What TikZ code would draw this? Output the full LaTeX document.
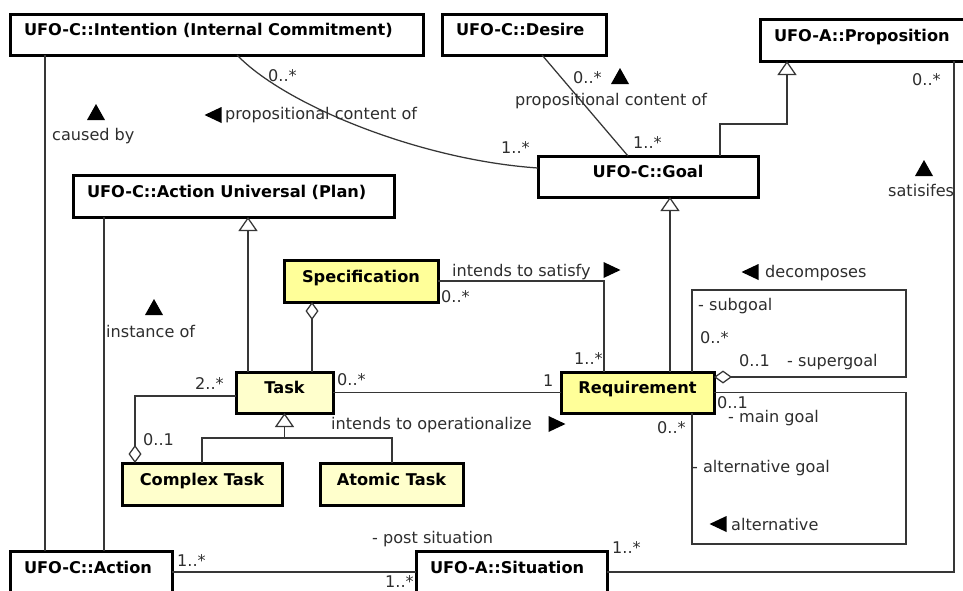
\documentclass[tikz,border=0pt]{standalone}
\usepackage{fontspec}
\setmainfont{DejaVu Sans}
\usetikzlibrary{arrows.meta}
\definecolor{specfill}{HTML}{FFFF99}
\definecolor{taskfill}{HTML}{FFFFCC}
\definecolor{linegray}{HTML}{363636}
\definecolor{labelgray}{HTML}{2E2E2E}

\begin{document}
\begin{tikzpicture}[x=1pt,y=-1pt,
  cls/.style={draw=black, line width=3pt, fill=white, rectangle, outer sep=0pt,
    anchor=north west, font=\fontsize{16.2}{18}\selectfont\bfseries,
    text height=11.5pt, text depth=9pt, minimum height=41pt},
  lcls/.style={cls, align=left, inner xsep=14pt, text width=#1},
  ccls/.style={cls, align=center, minimum width=#1},
  lbl/.style={font=\fontsize{16.1}{18}\selectfont, text=labelgray, inner sep=0pt,
    text height=11.5pt, text depth=0pt, anchor=west},
  conn/.style={draw=linegray, line width=1.25pt},
  gen/.style={conn, -{Triangle[open, length=14pt, width=19pt]}},
  agg/.style={conn, -{Diamond[open, length=18pt, width=13pt]}},
  upmark/.pic={\fill[black] (-9,8) -- (9,8) -- (0,-8) -- cycle;},
  leftmark/.pic={\fill[black] (8.5,-8) -- (8.5,8) -- (-8.5,0) -- cycle;},
  rightmark/.pic={\fill[black] (-8.5,-8) -- (-8.5,8) -- (8.5,0) -- cycle;}
]
\useasboundingbox (0,0) rectangle (963,590);
\fill[white] (0,0) rectangle (963,590);
\clip (0,0) rectangle (963,590);

% classes
\node[lcls=385pt] (int) at (10,14) {UFO-C::Intention (Internal Commitment)};
\node[lcls=136pt] (des) at (442,14) {UFO-C::Desire};
\node[lcls=187pt, minimum height=42pt] (prop) at (760,19) {UFO-A::Proposition};
\node[ccls=220pt] (goal) at (538,156) {UFO-C::Goal};
\node[lcls=293pt, minimum height=42pt] (au) at (73,175) {UFO-C::Action Universal (Plan)};
\node[ccls=154pt, minimum height=42pt, fill=specfill] (spec) at (284,260) {Specification};
\node[ccls=97pt, fill=taskfill] (task) at (236,372) {Task};
\node[ccls=153pt, fill=specfill] (req) at (561,372) {Requirement};
\node[ccls=160pt, minimum height=42pt, fill=taskfill] (ct) at (122,463) {Complex Task};
\node[ccls=143pt, minimum height=42pt, fill=taskfill] (at) at (320,463) {Atomic Task};
\node[lcls=134pt, minimum height=42pt] (act) at (10,551) {UFO-C::Action};
\node[lcls=163pt, minimum height=42pt] (sit) at (416,551) {UFO-A::Situation};

% helper points of the self associations and the generalization tree
\coordinate (dtop) at (906,290);
\coordinate (abot) at (906,544);
\coordinate (tj) at ([yshift=-25pt]task.south);

% associations
\draw[conn] ([xshift=35pt]int.south west) -- ([xshift=35pt]int.south west |- act.north);
\draw[conn] ([xshift=31pt]au.south west) -- ([xshift=31pt]au.south west |- act.north);
\draw[conn] ([xshift=227pt]int.south west) .. controls (285,105) and (420,160) .. ([yshift=8.5pt]goal.west);
\draw[conn] ([xshift=100pt]des.south west) -- ([xshift=90pt]goal.north west);
\draw[conn] (spec.east) -| ([xshift=43pt]req.north west);
\draw[conn] (task.east) -- (req.west);
\draw[conn] (act.east) -- (sit.west);
\draw[conn] (sit.east) -| ([xshift=194pt]prop.south west);
\draw[conn] (req.east) -| (abot) -| ([xshift=131pt]req.south west);

% aggregations
\draw[agg] ([xshift=76pt]task.north west) -- ([xshift=76pt]task.north west |- spec.south);
\draw[agg] ([yshift=-3.5pt]task.west) -| ([xshift=13pt]ct.north west);
\draw[agg] ([xshift=131pt]req.north west) |- (dtop) |- ([yshift=15.5pt]req.east);

% generalizations
\draw[gen] ([xshift=182pt]goal.north west) -- ++(0,-32) -| ([xshift=27pt]prop.south west);
\draw[gen] ([xshift=109pt]req.north west) -- ([xshift=109pt]req.north west |- goal.south);
\draw[gen] ([xshift=12pt]task.north west) -- ([xshift=12pt]task.north west |- au.south);
\draw[conn] ([xshift=80pt]ct.north west) |- ([xshift=72pt]at.north west |- tj) -- ([xshift=72pt]at.north west);
\draw[gen] (tj) -- (task.south);

% association names and direction marks
\pic at (96,112) {upmark};
\node[lbl] (lcause) at (52,135) {caused by};
\pic at (213,115) {leftmark};
\node[lbl] (lprop1) at (225,114) {propositional content of};
\pic at (620,76) {upmark};
\node[lbl] (lprop2) at (515,100) {propositional content of};
\pic at (924,168) {upmark};
\node[lbl] (lsat) at (888,191) {satisifes};
\pic at (154,307) {upmark};
\node[lbl] (linst) at (106,332) {instance of};
\node[lbl] (lits) at (452,271) {intends to satisfy};
\pic at (612,270) {rightmark};
\pic at (750,272) {leftmark};
\node[lbl] (ldec) at (765,272) {decomposes};
\node[lbl] (lito) at (331,424) {intends to operationalize};
\pic at (557,424) {rightmark};
\pic at (718,524) {leftmark};
\node[lbl] (lalt) at (731,525) {alternative};

% roles and multiplicities
\node[lbl] (m1) at (268,76) {0..*};
\node[lbl] (m2) at (501,148) {1..*};
\node[lbl] (m3) at (573,78) {0..*};
\node[lbl] (m4) at (633,143) {1..*};
\node[lbl] (m5) at (912,80) {0..*};
\node[lbl] (m6) at (441,297) {0..*};
\node[lbl] (m7) at (574,359) {1..*};
\node[lbl] (r1) at (698,305) {- subgoal};
\node[lbl] (m8) at (700,338) {0..*};
\node[lbl] (m9) at (739,361) {0..1};
\node[lbl] (r2) at (787,361) {- supergoal};
\node[lbl] (m10) at (717,403) {0..1};
\node[lbl] (r3) at (728,417) {- main goal};
\node[lbl] (m11) at (657,428) {0..*};
\node[lbl] (r4) at (692,467) {- alternative goal};
\node[lbl] (m12) at (195,384) {2..*};
\node[lbl] (m13) at (337,380) {0..*};
\node[lbl] (m14) at (543,381) {1};
\node[lbl] (m15) at (143,440) {0..1};
\node[lbl] (r5) at (372,538) {- post situation};
\node[lbl] (m16) at (612,548) {1..*};
\node[lbl] (m17) at (385,582) {1..*};
\node[lbl] (m18) at (177,561) {1..*};
\end{tikzpicture}
\end{document}
